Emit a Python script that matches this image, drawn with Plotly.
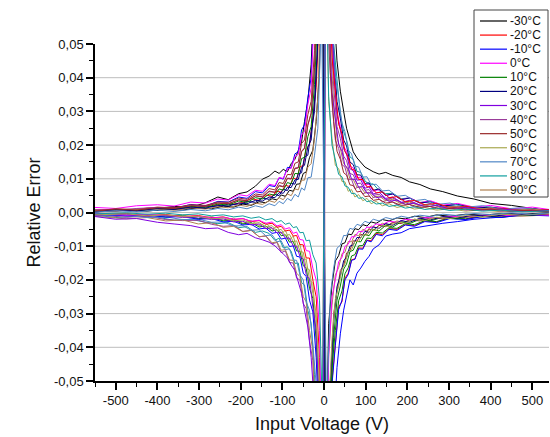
import plotly.graph_objects as go

# ---------------- data (relative error in units of 1e-3) ----------------
# two sweeps per temperature, sampled at slightly different input voltages
VOLTAGE_A = [-550, -500, -450, -400, -360, -320, -285, -255, -230, -205, -185, -165, -148, -132,
             -118, -108, -98, -88, -79, -70, -62, -54, -47, -39, -31, -23, -15, -6,
             6, 15, 23, 31, 39, 47, 54, 62, 70, 79, 88, 98, 108, 118,
             132, 148, 165, 185, 205, 230, 255, 285, 320, 360, 400, 450, 500, 540]
VOLTAGE_B = [-550, -475, -425, -380, -340, -302, -270, -242, -217, -195, -175, -156, -140, -125,
             -113, -103, -93, -83, -74, -66, -58, -50, -43, -35, -27, -19, -11, -4,
             4, 11, 19, 27, 35, 43, 50, 58, 66, 74, 83, 93, 103, 113,
             125, 140, 156, 175, 195, 217, 242, 270, 302, 340, 380, 425, 475, 540]

TEMPS = ["-30°C", "-20°C", "-10°C", "0°C", "10°C", "20°C", "30°C",
         "40°C", "50°C", "60°C", "70°C", "80°C", "90°C"]
COLORS = ["#000000", "#ff0000", "#0000ff", "#ff00ff", "#008000", "#000080", "#8000e0",
          "#9a3c9a", "#9a2a2a", "#a8a850", "#4f86c6", "#109e9e", "#b08050"]

SWEEP_01 = [0.3, 0.9, 0.5, 1.2, 1.8, 1.5, 2.9, 4.6, 3.8, 5.6, 6.1, 7.8, 9.9, 10.8, 12.3, 11.6, 12.8, 12.1, 14.5, 15.8, 18.5, 21, 27, 33, 44, 60, 95, 210,
            220, 100, 62, 45, 36, 30, 25, 21.5, 18, 16.2, 14.8, 13.5, 12.8, 12.1, 11.4, 11.9, 11.0, 10.4, 9.1, 8.3, 7.0, 6.2, 4.9, 4.0, 2.7, 2.1, 1.2, 0.6]
SWEEP_02 = [-0.2, -0.9, -0.5, -1.2, -0.7, -1.8, -1.2, -2.3, -1.7, -3.2, -2.4, -3.9, -3.1, -5.0, -4.1, -6.3, -5.3, -8.1, -7.0, -10.5, -9.4, -14, -13.8, -20, -21, -33, -50, -120,
            80, 33, 22, 14, 13, 9.2, 9.1, 6.3, 6.8, 4.6, 5.3, 3.5, 4.2, 2.6, 3.3, 2.0, 2.6, 1.5, 2.0, 1.0, 1.5, 0.7, 1.1, 0.4, 0.8, 0.2, 0.5, 0.1]
SWEEP_03 = [-0.8, -1.5, -1.1, -1.4, -2.3, -2.0, -2.9, -3.3, -3.0, -4.5, -4.2, -5.9, -5.5, -6.2, -8.3, -7.6, -10.5, -10.2, -11.5, -15.1, -15, -20.8, -21.5, -29, -33, -48, -77, -180,
            200, 84, 50, 40, 29, 24, 21.5, 16.5, 15.8, 12.2, 11.9, 9.4, 8.4, 8.5, 6.5, 5.6, 5.7, 4.1, 4.3, 3.0, 3.2, 2.0, 2.3, 1.2, 1.5, 0.6, 1.0, 0.3]
SWEEP_04 = [0.9, 0.6, 1.3, 1.5, 1.1, 2.1, 1.8, 2.8, 2.5, 3.0, 4.1, 3.6, 5.2, 4.8, 6.4, 6.0, 8.1, 7.7, 10.3, 9.8, 13.5, 14, 19, 20, 28, 37, 60, 140,
            -200, -84, -50, -39, -28, -26.5, -19.5, -18, -14, -13.8, -10.5, -10.6, -8.2, -8.4, -6.2, -6.6, -4.8, -5.0, -3.6, -3.9, -2.5, -2.8, -1.6, -2.0, -1.0, -1.4, -0.6, -0.9]
SWEEP_05 = [0.1, 0.9, 0.5, 1.4, 1.2, 2.4, 1.9, 3.3, 3.1, 4.6, 4.2, 6.2, 5.8, 8.0, 7.7, 10.3, 9.9, 13.4, 13.2, 17.4, 18, 24.5, 26, 34, 40, 58, 92, 220,
            -260, -110, -64, -46, -36, -29, -25, -20, -21.5, -18, -16.5, -14.5, -13, -10.8, -9.6, -7.0, -6.4, -6.0, -4.8, -4.3, -3.6, -3.2, -2.7, -2.0, -1.6, -1.1, -0.8, -0.3]
SWEEP_06 = [-0.7, -1.4, -1.1, -2.1, -2.4, -2.3, -3.5, -4.1, -3.9, -5.6, -5.3, -7.2, -7.0, -9.3, -8.9, -11.9, -11.4, -14.8, -15.0, -19.5, -20, -27, -28.5, -38, -44, -64, -100, -240,
            120, 50, 32.5, 21.5, 19, 14.2, 13.5, 9.7, 9.8, 7.1, 7.6, 5.5, 6.1, 4.1, 4.8, 3.2, 3.8, 2.3, 3.0, 1.6, 2.3, 1.1, 1.7, 0.7, 1.2, 0.4, 0.8, 0.2]
SWEEP_07 = [1.5, 1.2, 2.0, 2.3, 1.9, 3.1, 2.8, 4.0, 3.7, 5.3, 4.9, 6.6, 6.3, 8.4, 8.0, 10.4, 10.1, 12.9, 13.1, 16.6, 17.2, 23, 24, 32, 37, 54, 85, 200,
            160, 67, 43.5, 29.5, 25.5, 19.6, 18.2, 13.8, 13.2, 10.3, 10.5, 8.1, 8.4, 6.3, 6.8, 5.0, 5.5, 3.8, 4.4, 2.9, 3.5, 2.2, 2.7, 1.6, 2.1, 1.1, 1.6, 0.9]
SWEEP_08 = [-1.1, -1.9, -1.5, -2.5, -2.2, -3.4, -3.0, -4.4, -4.1, -5.7, -5.3, -7.2, -6.9, -9.0, -8.7, -11.2, -11.0, -14.1, -14.2, -18, -19, -25, -26.5, -35, -41, -59, -93, -220,
            -100, -42, -27.5, -18.5, -16.3, -12.2, -11.8, -8.6, -8.7, -6.5, -6.9, -5.0, -5.5, -4.0, -4.5, -3.2, -3.7, -2.5, -3.0, -2.0, -2.3, -1.5, -1.8, -1.2, -1.4, -0.9, -1.1, -0.7]
SWEEP_09 = [0.7, 0.4, 1.0, 0.6, 1.4, 1.1, 1.9, 1.6, 2.5, 2.2, 3.3, 3.0, 4.3, 3.9, 5.4, 5.0, 6.9, 6.5, 8.7, 8.4, 11.5, 11.8, 16.5, 17, 24, 30, 51, 120,
            180, 75, 48, 33, 28, 21.5, 19.8, 15, 14.2, 11.2, 11.1, 8.6, 8.8, 6.6, 7.0, 5.1, 5.5, 3.8, 4.3, 2.8, 3.2, 1.9, 2.4, 1.3, 1.6, 0.8, 1.1, 0.5]
SWEEP_10 = [-0.3, -0.9, -0.6, -1.3, -1.0, -1.8, -1.5, -2.5, -2.2, -3.4, -3.0, -4.3, -4.0, -5.5, -5.1, -6.9, -6.6, -8.8, -8.6, -11.4, -11.5, -15.8, -16.5, -22.5, -25.5, -38, -59, -140,
            -180, -77, -46, -35, -26.2, -23.3, -18.2, -16.4, -12.9, -12.5, -9.9, -9.8, -7.6, -7.7, -5.9, -6.1, -4.5, -4.7, -3.3, -3.6, -2.4, -2.7, -1.6, -1.9, -1.0, -1.3, -0.6, -0.9]
SWEEP_11 = [0.5, 1.1, 0.9, 1.6, 1.4, 2.3, 2.1, 3.1, 3.0, 4.3, 3.9, 5.5, 5.2, 7.1, 6.7, 8.9, 8.6, 11.3, 11.2, 14.6, 15, 20.5, 21.5, 29, 33, 48, 76, 180,
            -120, -52, -30, -23.8, -17.2, -15.8, -12, -11.2, -8.4, -8.5, -6.5, -6.7, -4.9, -5.3, -3.8, -4.2, -2.9, -3.3, -2.2, -2.5, -1.6, -1.9, -1.1, -1.4, -0.7, -1.0, -0.4, -0.7]
SWEEP_12 = [-1.0, -0.8, -1.5, -1.3, -2.1, -2.0, -2.9, -2.8, -4.0, -3.9, -5.3, -5.1, -6.9, -6.6, -8.7, -8.4, -11, -10.8, -14.1, -14.2, -18.5, -20, -26.5, -29, -39, -51, -85, -200,
            220, 92, 58.5, 40.5, 34, 26.5, 24, 18.5, 17.4, 13.8, 13.5, 10.5, 10.6, 8.2, 8.4, 6.4, 6.6, 4.8, 5.1, 3.5, 3.9, 2.4, 2.8, 1.6, 2.0, 1.0, 1.4, 0.6]
SWEEP_13 = [-1.2, -2.0, -1.8, -2.9, -3.4, -3.9, -4.8, -4.6, -5.9, -6.6, -6.2, -7.5, -8.1, -8.8, -9.9, -11.0, -12.3, -13.5, -15.6, -17.2, -20.5, -24, -29, -34, -43, -58, -95, -220,
            160, 66, 42.5, 29, 24.5, 18.9, 17.3, 13, 12.4, 9.6, 9.7, 7.2, 7.6, 5.5, 6.0, 4.2, 4.6, 3.0, 3.6, 2.1, 2.6, 1.3, 1.8, 0.8, 1.2, 0.4, 0.7, 0.1]
SWEEP_14 = [0.2, 0.7, 0.4, 1.0, 0.7, 1.4, 1.1, 1.9, 1.6, 2.5, 2.1, 3.2, 2.9, 4.1, 3.7, 5.2, 4.8, 6.6, 6.3, 8.4, 8.5, 11.6, 12, 16.3, 18.5, 27, 42, 100,
            -80, -33, -21.5, -14.4, -12.8, -9.3, -9.0, -6.4, -6.6, -4.8, -5.1, -3.6, -4.0, -2.8, -3.2, -2.1, -2.5, -1.6, -1.9, -1.1, -1.5, -0.7, -1.1, -0.5, -0.8, -0.3, -0.5, -0.1]
SWEEP_15 = [0.9, 0.6, 1.2, 1.5, 1.1, 2.1, 1.8, 2.9, 2.6, 3.9, 3.5, 5.0, 4.7, 6.4, 6.0, 8.1, 7.7, 10.2, 10.1, 13.2, 13.4, 18.2, 19.2, 25.8, 29.5, 43, 68, 160,
            140, 58, 37.5, 25.5, 22, 16.7, 15.4, 11.6, 11.2, 8.6, 8.7, 6.6, 6.8, 5.1, 5.4, 3.9, 4.3, 2.9, 3.3, 2.1, 2.5, 1.5, 1.8, 1.0, 1.3, 0.6, 0.9, 0.4]
SWEEP_16 = [-0.4, -1.0, -0.7, -1.4, -1.2, -2.0, -1.8, -2.8, -2.6, -3.7, -3.5, -4.9, -4.6, -6.2, -5.9, -7.9, -7.6, -10.1, -9.9, -13, -13.2, -18, -19, -26, -29.5, -43, -68, -160,
            -200, -86, -51, -39.5, -28.8, -26, -20, -18.4, -14.2, -13.9, -10.8, -10.9, -8.3, -8.7, -6.5, -6.9, -5.0, -5.3, -3.7, -4.1, -2.7, -3.0, -1.8, -2.1, -1.2, -1.5, -0.7, -1.0]
SWEEP_17 = [0.3, 0.9, 0.6, 1.3, 1.0, 1.8, 1.5, 2.5, 2.2, 3.4, 3.0, 4.4, 4.0, 5.5, 5.1, 7.0, 6.6, 8.9, 8.5, 11.6, 11.5, 16, 16.4, 22.5, 25.5, 38, 59, 140,
            -140, -58, -37, -26, -21.8, -16.8, -15.3, -11.6, -11.2, -8.6, -8.7, -6.5, -6.9, -5.0, -5.5, -3.8, -4.3, -2.8, -3.3, -2.0, -2.5, -1.4, -1.9, -0.9, -1.3, -0.5, -0.9, -0.3]
SWEEP_18 = [-0.6, -0.3, -0.9, -0.6, -1.2, -0.9, -1.6, -1.3, -2.1, -1.8, -2.7, -2.4, -3.5, -3.2, -4.4, -4.1, -5.5, -5.2, -7.0, -6.8, -9.5, -9.6, -13.5, -13.5, -20, -25, -43, -100,
            180, 77, 46, 35, 26.2, 23.3, 18.2, 16.4, 12.9, 12.5, 9.8, 9.8, 7.6, 7.7, 5.8, 6.1, 4.4, 4.7, 3.2, 3.6, 2.3, 2.7, 1.5, 1.9, 0.9, 1.3, 0.5, 0.9]
SWEEP_19 = [0.7, 0.4, 0.9, 1.0, 0.7, 1.4, 1.0, 1.7, 1.4, 2.2, 1.8, 2.8, 2.4, 3.5, 3.0, 4.4, 3.8, 5.5, 5.0, 7.0, 6.7, 9.6, 9.6, 13.5, 14.5, 22, 34, 80,
            120, 50, 32.5, 22, 19, 14.5, 13.5, 10, 9.8, 7.5, 7.6, 5.8, 6.0, 4.5, 4.9, 3.5, 3.9, 2.6, 3.1, 1.9, 2.4, 1.4, 1.8, 1.0, 1.3, 0.7, 1.0, 0.5]
SWEEP_20 = [-0.3, -0.8, -0.6, -1.0, -1.2, -1.1, -1.6, -1.4, -2.0, -1.8, -2.6, -2.3, -3.2, -2.8, -4.0, -3.6, -4.9, -4.5, -6.2, -5.8, -8.0, -8.2, -11.3, -11.5, -16.5, -20, -35, -80,
            -100, -43, -25, -20, -14.6, -13.3, -10.1, -9.4, -7.2, -7.2, -5.6, -5.7, -4.3, -4.5, -3.4, -3.6, -2.6, -2.9, -2.0, -2.3, -1.5, -1.7, -1.1, -1.3, -0.8, -1.0, -0.5, -0.8]
SWEEP_21 = [0.3, 0.8, 0.5, 1.2, 0.9, 1.6, 1.3, 2.1, 1.9, 2.8, 2.6, 3.6, 3.4, 4.6, 4.4, 5.9, 5.7, 7.5, 7.4, 9.7, 9.8, 13.4, 14, 19.5, 21.5, 33, 51, 120,
            -120, -50, -32.5, -22, -18.8, -14.3, -13.3, -10, -9.6, -7.4, -7.5, -5.6, -5.9, -4.3, -4.7, -3.3, -3.8, -2.4, -2.9, -1.7, -2.2, -1.2, -1.6, -0.8, -1.2, -0.4, -0.8, -0.2]
SWEEP_22 = [-0.8, -0.5, -1.1, -0.8, -1.5, -1.3, -2.1, -1.9, -2.8, -2.6, -3.7, -3.4, -4.8, -4.5, -6.1, -5.8, -7.6, -7.6, -9.9, -10, -13, -13.8, -18.4, -19.8, -28, -35, -60, -140,
            140, 60.5, 35.5, 27.5, 20.2, 18.2, 14, 12.9, 9.9, 9.8, 7.5, 7.7, 5.7, 5.9, 4.4, 4.7, 3.3, 3.7, 2.4, 2.8, 1.7, 2.1, 1.1, 1.5, 0.7, 1.1, 0.4, 0.7]
SWEEP_23 = [0.4, 1.0, 0.7, 1.4, 1.2, 2.0, 1.8, 2.8, 2.6, 3.7, 3.5, 4.9, 4.6, 6.2, 6.0, 7.9, 7.6, 10.1, 9.9, 13, 13.2, 18, 19, 26, 29.5, 43, 68, 160,
            100, 41.5, 27, 18.2, 15.8, 11.8, 11.1, 8.2, 8.0, 6.1, 6.3, 4.7, 4.9, 3.6, 3.9, 2.8, 3.1, 2.1, 2.4, 1.5, 1.8, 1.0, 1.4, 0.6, 1.0, 0.4, 0.7, 0.2]
SWEEP_24 = [-0.7, -0.4, -1.0, -0.7, -1.3, -1.1, -1.9, -1.6, -2.5, -2.2, -3.3, -3.0, -4.3, -3.9, -5.4, -5.0, -6.9, -6.5, -8.7, -8.4, -11.5, -11.8, -16.5, -17, -24, -30, -51, -120,
            -140, -58.5, -37.5, -25.8, -21.8, -16.8, -15.3, -11.6, -11.1, -8.6, -8.6, -6.5, -6.8, -5.0, -5.4, -3.8, -4.2, -2.8, -3.2, -2.0, -2.4, -1.4, -1.8, -0.9, -1.3, -0.5, -0.8, -0.3]
SWEEP_25 = [0.1, 0.5, 0.2, 0.7, 0.3, 0.9, 0.5, 1.2, 0.8, 1.6, 1.1, 2.0, 1.5, 2.6, 2.0, 3.3, 2.6, 4.2, 3.5, 5.4, 4.6, 7.3, 6.6, 10.3, 10.5, 17, 25, 60,
            -60, -24.5, -16.5, -10.6, -9.7, -6.8, -6.9, -4.7, -5.0, -3.5, -3.9, -2.6, -3.1, -2.0, -2.5, -1.5, -2.0, -1.1, -1.6, -0.8, -1.2, -0.5, -0.9, -0.3, -0.6, -0.1, -0.5, -0.1]
SWEEP_26 = [-0.4, -0.1, -0.5, -0.2, -0.7, -0.4, -1.0, -0.7, -1.3, -1.0, -1.7, -1.3, -2.2, -1.8, -2.8, -2.4, -3.5, -3.1, -4.5, -4.2, -6.0, -5.9, -8.4, -8.2, -12.5, -15, -26, -60,
            80, 34.5, 20, 15.8, 11.3, 10.6, 7.9, 7.5, 5.6, 5.7, 4.2, 4.4, 3.2, 3.5, 2.5, 2.8, 1.8, 2.2, 1.3, 1.7, 0.9, 1.3, 0.6, 1.0, 0.4, 0.7, 0.2, 0.5]

SWEEPS = [SWEEP_01, SWEEP_02, SWEEP_03, SWEEP_04, SWEEP_05, SWEEP_06, SWEEP_07, SWEEP_08, SWEEP_09,
          SWEEP_10, SWEEP_11, SWEEP_12, SWEEP_13, SWEEP_14, SWEEP_15, SWEEP_16, SWEEP_17, SWEEP_18,
          SWEEP_19, SWEEP_20, SWEEP_21, SWEEP_22, SWEEP_23, SWEEP_24, SWEEP_25, SWEEP_26]
# temperature index of each sweep
SWEEP_TEMP = [0, 9, 11, 1, 2, 7, 3, 12, 5, 4, 8, 10, 6, 0, 7, 2, 4, 1, 12, 3, 5, 6, 8, 9, 10, 11]
UNIT = 1e-3

bad = [i + 1 for i, v in enumerate(SWEEPS) if len(v) != len(VOLTAGE_A)]
assert not bad and len(VOLTAGE_A) == len(VOLTAGE_B), f"length mismatch in sweeps {bad}"

Y_TICKS = [-0.05, -0.04, -0.03, -0.02, -0.01, 0.0, 0.01, 0.02, 0.03, 0.04, 0.05]
Y_LABELS = ["-0,05", "-0,04", "-0,03", "-0,02", "-0,01", "0,00", "0,01", "0,02", "0,03", "0,04", "0,05"]
X_TICKS = [-500, -400, -300, -200, -100, 0, 100, 200, 300, 400, 500]
X_LABELS = ["-500", "-400", "-300", "-200", "-100", "0", "100", "200", "300", "400", "500"]
GRID_Y = [-0.04, -0.03, -0.02, -0.01, 0.0, 0.01, 0.02, 0.03, 0.04]

# ---------------- layout geometry ----------------
W, H = 550, 437
ML, MR, MT, MB = 95, 1, 44, 56
PW, PH = W - ML - MR, H - MT - MB
FONT = "Liberation Sans, Arial, sans-serif"


def px_x(p):
    return (p - ML) / PW


def px_y(p):
    return (H - MB - p) / PH


fig = go.Figure()
for i, (ti, vals) in enumerate(zip(SWEEP_TEMP, SWEEPS)):
    xs = VOLTAGE_A if i % 2 == 0 else VOLTAGE_B
    fig.add_trace(go.Scatter(
        x=xs, y=[v * UNIT for v in vals], mode="lines",
        line=dict(color=COLORS[ti], width=1), name=TEMPS[ti],
        showlegend=False, hoverinfo="skip"))

shapes = []
for gy in GRID_Y:
    shapes.append(dict(type="line", xref="paper", yref="y", x0=0, x1=1, y0=gy, y1=gy,
                       line=dict(color="#bdbdbd", width=1), layer="below"))

# legend box (drawn manually for compact Origin-like spacing)
LEG_L, LEG_R, LEG_T, LEG_B = 474, 548, 10, 197
shapes.append(dict(type="rect", xref="paper", yref="paper",
                   x0=px_x(LEG_L), x1=px_x(LEG_R), y0=px_y(LEG_B), y1=px_y(LEG_T),
                   line=dict(color="#444444", width=1), fillcolor="white", layer="above"))
annotations = []
first_c, step = 21, (190 - 21) / 12
for i, (name, col) in enumerate(zip(TEMPS, COLORS)):
    cy = first_c + i * step
    shapes.append(dict(type="line", xref="paper", yref="paper",
                       x0=px_x(480), x1=px_x(507), y0=px_y(cy), y1=px_y(cy),
                       line=dict(color=col, width=1.2), layer="above"))
    annotations.append(dict(xref="paper", yref="paper", x=px_x(508), y=px_y(cy),
                            text=name, showarrow=False, xanchor="left", yanchor="middle",
                            font=dict(family=FONT, size=12, color="#111111")))

fig.update_layout(
    width=W, height=H, margin=dict(l=ML, r=MR, t=MT, b=MB, autoexpand=False),
    paper_bgcolor="white", plot_bgcolor="white",
    font=dict(family=FONT, size=13, color="#111111"),
    showlegend=False, shapes=shapes, annotations=annotations,
    xaxis=dict(range=[-550, 540], tickvals=X_TICKS, ticktext=X_LABELS,
               showgrid=False, zeroline=False, showline=True, linecolor="black", linewidth=1.5,
               ticks="outside", ticklen=7, tickwidth=1.5, tickcolor="black",
               minor=dict(dtick=50, tick0=0, ticks="outside", ticklen=4, tickwidth=1.2,
                          tickcolor="black", showgrid=False),
               tickfont=dict(size=13),
               title=dict(text="Input Voltage (V)", font=dict(size=18), standoff=10)),
    yaxis=dict(range=[-0.05, 0.05], tickvals=Y_TICKS, ticktext=Y_LABELS,
               showgrid=False, zeroline=False, showline=True, linecolor="black", linewidth=1.5,
               ticks="outside", ticklen=7, tickwidth=1.5, tickcolor="black",
               minor=dict(dtick=0.005, tick0=0, ticks="outside", ticklen=4, tickwidth=1.2,
                          tickcolor="black", showgrid=False),
               tickfont=dict(size=13),
               title=dict(text="Relative Error", font=dict(size=18), standoff=9)),
)

fig.write_html("out.html")
